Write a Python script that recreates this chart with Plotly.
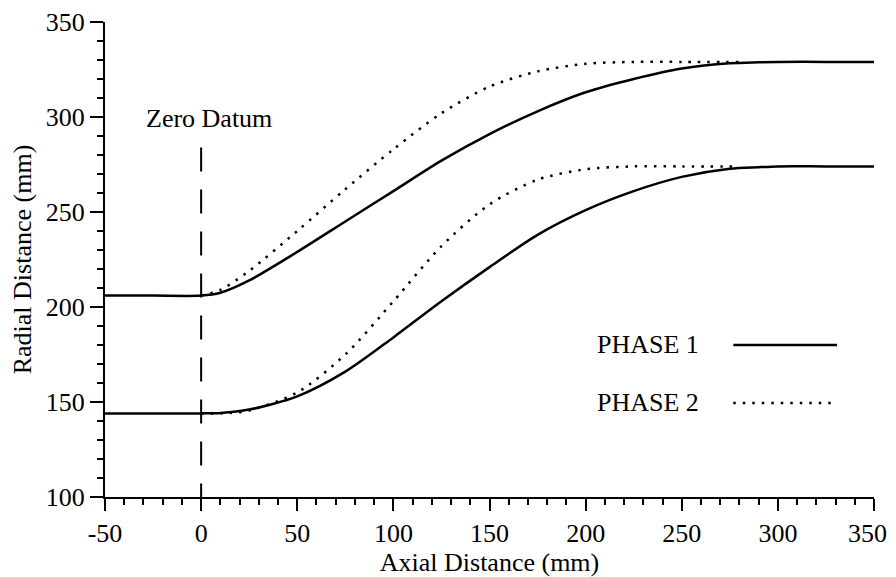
import plotly.graph_objects as go

# ---- data ----
axial_p1 = [-50, -25, 0, 10, 25, 50, 75, 100, 125, 150, 175, 200, 225, 250, 275, 290, 300, 325, 350]
outer_p1 = [206, 206, 206, 207.5, 214, 229, 245, 261, 277, 291, 303, 313, 320, 325.5, 328.3, 328.8, 329, 329, 329]
inner_p1 = [144, 144, 144, 144.2, 146, 153, 166, 184, 203, 221, 238, 251, 261, 268.5, 272.8, 273.6, 274, 274, 274]

axial_p2 = [0, 10, 25, 50, 75, 100, 125, 150, 175, 200, 225, 250, 280]
outer_p2 = [206, 209, 219, 240, 262, 283, 302, 316, 324, 328, 329, 329, 329]
axial_p2_in = [0, 15, 25, 50, 75, 100, 125, 150, 175, 200, 225, 250, 280]
inner_p2 = [144, 144.2, 145.5, 155, 175, 203, 232, 254, 267, 272.5, 274, 274, 274]

datum_x = [0, 0]
datum_y = [284, 100]

x_tickvals = [-50, 0, 50, 100, 150, 200, 250, 300, 350]
# the last label carries two no-break spaces so it stays inside the visible page edge
x_ticktext = ["-50", "0", "50", "100", "150", "200", "250", "300", "350\u00a0\u00a0"]
y_tickvals = [100, 150, 200, 250, 300, 350]
y_ticktext = ["100", "150", "200", "250", "300", "350"]

x_title = "Axial Distance (mm)"
y_title = "Radial Distance (mm)"
series_names = ["PHASE 1", "PHASE 2"]

FONT = "Liberation Serif, Times New Roman, serif"
FS = 26
LW = 2.5
DOT = "2.5px,7px"

fig = go.Figure()

line_solid = dict(color="black", width=LW, shape="spline", smoothing=0.8)
line_dot = dict(color="black", width=LW, dash=DOT, shape="spline", smoothing=0.8)

fig.add_trace(go.Scatter(x=axial_p1, y=outer_p1, mode="lines", line=line_solid, showlegend=False))
fig.add_trace(go.Scatter(x=axial_p1, y=inner_p1, mode="lines", line=line_solid, showlegend=False))
fig.add_trace(go.Scatter(x=axial_p2, y=outer_p2, mode="lines", line=line_dot, showlegend=False))
fig.add_trace(go.Scatter(x=axial_p2_in, y=inner_p2, mode="lines", line=line_dot, showlegend=False))

# Zero datum dashed line
fig.add_trace(go.Scatter(x=datum_x, y=datum_y, mode="lines",
                         line=dict(color="black", width=2, dash="24px,18px"), showlegend=False))

fig.add_annotation(x=4, y=299, xref="x", yref="y", text="Zero Datum", showarrow=False,
                   font=dict(family=FONT, size=FS, color="black"))

# Custom legend (text left, sample line right)
leg_y = [0.32, 0.198]
leg_dash = ["solid", DOT]
for name, yy, dsh in zip(series_names, leg_y, leg_dash):
    fig.add_annotation(x=0.637, y=yy, xref="paper", yref="paper", text=name, showarrow=False,
                       xanchor="left", yanchor="middle",
                       font=dict(family=FONT, size=FS, color="black"))
    fig.add_shape(type="line", xref="paper", yref="paper", x0=0.817, x1=0.952, y0=yy, y1=yy,
                  line=dict(color="black", width=LW, dash=dsh))

axis_common = dict(
    showgrid=False, zeroline=False, showline=True, linecolor="black", linewidth=2,
    ticks="outside", tickcolor="black", tickwidth=2, automargin=False,
    tickfont=dict(family=FONT, size=FS, color="black"),
    title_font=dict(family=FONT, size=FS, color="black"),
)

fig.update_xaxes(range=[-50, 350], tickmode="array", tickvals=x_tickvals, ticktext=x_ticktext,
                 ticklen=12, ticklabeloverflow="allow",
                 minor=dict(dtick=10, ticks="outside", ticklen=6, tickwidth=2, tickcolor="black"),
                 title_text=x_title, **axis_common)
fig.update_yaxes(range=[100, 350], tickmode="array", tickvals=y_tickvals, ticktext=y_ticktext,
                 ticklen=13, minor=dict(dtick=10, ticks="outside", ticklen=6, tickwidth=2, tickcolor="black"),
                 title_text=y_title, **axis_common)

# page body adds an 8px offset; size the figure so the plot area lands where the reference has it
fig.update_layout(
    width=888, height=569,
    margin=dict(l=97, r=22, t=14, b=80),
    paper_bgcolor="white", plot_bgcolor="white",
    font=dict(family=FONT, size=FS, color="black"),
)

fig.write_html("out.html")
